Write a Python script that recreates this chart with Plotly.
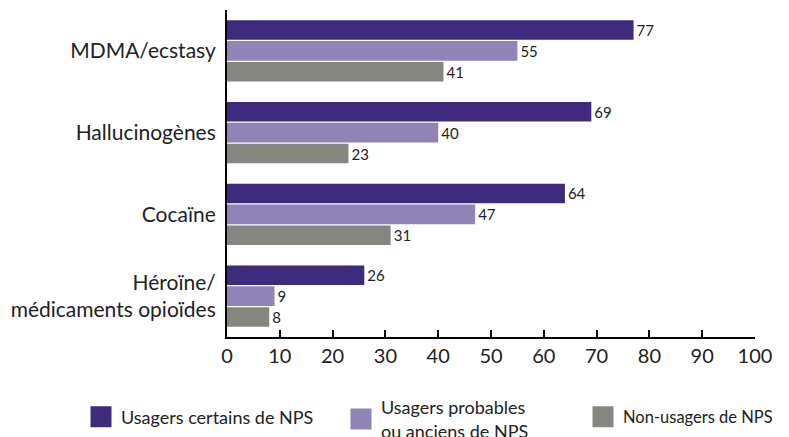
import plotly.graph_objects as go

categories = ["MDMA/ecstasy", "Hallucinogènes", "Cocaïne", "Héroïne/<br>médicaments opioïdes"]
series_names = ["Usagers certains de NPS", "Usagers probables<br>ou anciens de NPS", "Non-usagers de NPS"]
certains = [77, 69, 64, 26]
probables = [55, 40, 47, 9]
non_usagers = [41, 23, 31, 8]
colors = ["#3e2b7e", "#9083b6", "#868681"]
x_ticks = [0, 10, 20, 30, 40, 50, 60, 70, 80, 90, 100]

FONT = "Lato, Open Sans, sans-serif"
legend_ids = ["legend", "legend2", "legend3"]

fig = go.Figure()
for name, vals, col in zip(series_names, [certains, probables, non_usagers], colors):
    fig.add_trace(go.Bar(
        y=categories, x=vals, name=name, orientation="h",
        marker=dict(color=col, line=dict(width=0)),
        text=[str(v) for v in vals], textposition="outside",
        textfont=dict(size=15, color="#222222", family=FONT),
        cliponaxis=False, showlegend=False,
    ))

# legend proxies (large square swatches), on hidden axes
for name, col, lid in zip(series_names, colors, legend_ids):
    fig.add_trace(go.Scatter(
        x=[None], y=[None], mode="markers", name=name, legend=lid,
        marker=dict(symbol="square", size=16, color=col, line=dict(color=col, width=5)),
        xaxis="x2", yaxis="y2", showlegend=True, hoverinfo="skip",
    ))

leg_common = dict(
    orientation="h", xref="container", yref="container", xanchor="left",
    yanchor="middle",
    itemclick=False, itemdoubleclick=False, itemsizing="trace",
    bgcolor="rgba(0,0,0,0)", borderwidth=0,
)

fig.update_layout(
    width=789, height=437,
    margin=dict(l=219, r=42, t=2, b=108, autoexpand=False),
    paper_bgcolor="white", plot_bgcolor="white",
    barmode="group", bargap=0.23, bargroupgap=0.07,
    font=dict(family=FONT, size=21, color="#222222"),
    showlegend=True,
    legend=dict(x=73 / 789, y=1 - 409 / 437,
                font=dict(size=18, color="#222222", family=FONT), **leg_common),
    legend2=dict(x=333 / 789, y=1 - 411 / 437,
                 font=dict(size=18, color="#222222", family=FONT), **leg_common),
    legend3=dict(x=575 / 789, y=1 - 409 / 437,
                 font=dict(size=16.5, color="#222222", family=FONT), **leg_common),
    xaxis2=dict(overlaying="x", visible=False, range=[0, 1]),
    yaxis2=dict(overlaying="y", visible=False, range=[0, 1]),
    yaxis=dict(
        categoryorder="array", categoryarray=categories, autorange="reversed",
        showgrid=False, zeroline=False, showline=True, linecolor="black", linewidth=2,
        ticks="", ticklabelstandoff=5, automargin=False,
        tickfont=dict(size=21, color="#222222"),
    ),
    xaxis=dict(
        range=[0, 100], tickvals=x_ticks, ticktext=[str(t) for t in x_ticks],
        showgrid=False, zeroline=False, showline=True, linecolor="black", linewidth=2,
        ticks="inside", ticklen=7, tickwidth=1.5, tickcolor="black",
        tickfont=dict(size=20, color="#222222"), automargin=False,
    ),
)

fig.write_html("out.html")
